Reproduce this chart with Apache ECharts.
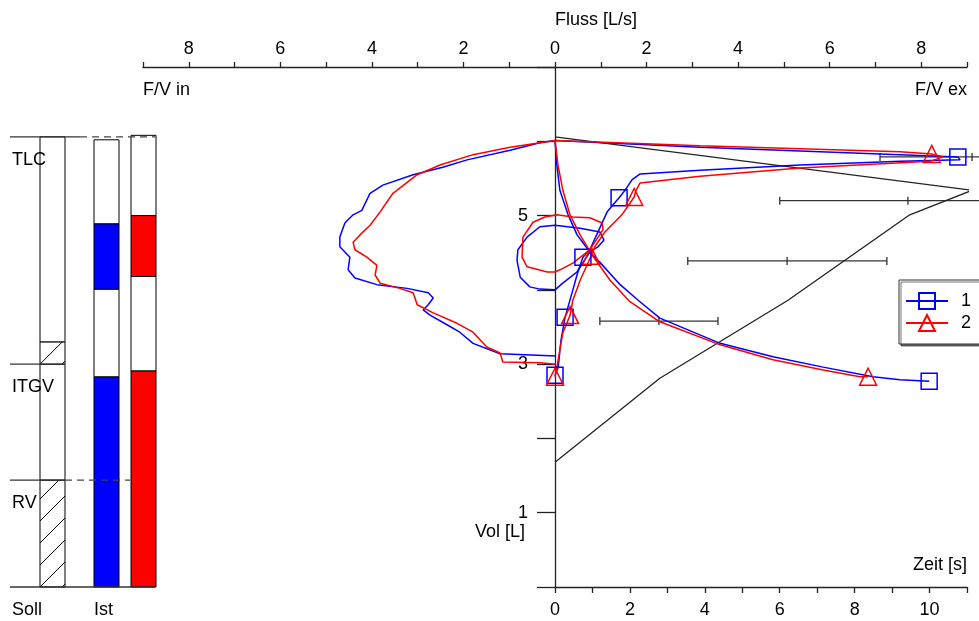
<!DOCTYPE html>
<html><head><meta charset="utf-8">
<script src="https://cdn.jsdelivr.net/npm/echarts@6/dist/echarts.min.js"></script>
<style>html,body{margin:0;padding:0;background:#fff}#c{width:979px;height:621px}</style>
</head><body><div id="c"></div>
<script>
// ================= DATA =================
// Left panel: lung volumes [L]
const sollNames   = ['TLC', 'ITGV', 'RV'];
const sollValues  = [6.06, 3.00, 1.44];
const sollHatch   = [[0, 1.44], [3.00, 3.30]];           // hatched (normal range) parts of the Soll column
const istSegNames = ['RV', 'ERV', 'VT', 'IRV'];
const ist1Segments = [2.83, 1.18, 0.88, 1.13];          // test 1 (blue)
const ist2Segments = [2.91, 1.27, 0.82, 1.08];          // test 2 (red)

// Flow-volume: predicted curve [flow L/s, vol L]
const sollFV = [[0, 6.06], [9.11, 5.34], [7.75, 5.01], [5.09, 3.86], [2.29, 2.81], [0, 1.68]];
// predicted ranges: [vol, low, predicted, high]
const mefRanges = [[5.79, 7.10, 9.11, 11.12], [5.20, 4.91, 7.71, 10.51], [4.39, 2.90, 5.07, 7.25], [3.58, 0.98, 2.27, 3.56]];

// Test 1 (blue) flow-volume
const blueTidal = [[0.00,4.00],[-0.33,4.01],[-0.55,4.04],[-0.76,4.17],[-0.83,4.40],[-0.81,4.54],[-0.61,4.71],[-0.33,4.85],[0.00,4.87],
  [0.55,4.83],[0.98,4.78],[1.07,4.67],[0.94,4.58],[0.76,4.51],[0.48,4.24],[0.17,4.09],[0.00,4.00]];
const blueFV = [[0.02,3.11],[-1.20,3.14],[-1.79,3.28],[-2.08,3.43],[-2.36,3.53],[-2.73,3.66],[-2.88,3.73],[-2.77,3.80],[-2.66,3.89],[-2.77,3.96],
  [-3.23,4.02],[-3.89,4.07],[-4.37,4.16],[-4.52,4.27],[-4.48,4.44],[-4.70,4.58],[-4.70,4.71],[-4.59,4.90],[-4.41,5.01],[-4.22,5.07],
  [-4.04,5.30],[-3.76,5.41],[-3.10,5.55],[-2.45,5.65],[-1.92,5.75],[-0.98,5.88],[-0.33,5.98],[0.00,6.01],
  [3.17,5.92],[7.54,5.82],[8.80,5.79],[8.85,5.75],[7.54,5.73],[5.35,5.68],[3.17,5.61],[1.86,5.56],[1.68,5.48],[1.53,5.34],[1.40,5.24],
  [1.14,5.05],[0.94,4.78],[0.76,4.54],[0.61,4.44],[0.50,4.24],[0.39,4.00],[0.22,3.63],[0.13,3.32],[0.07,2.96],[0.00,2.85]];
const blueFVMarks = [[8.80,5.79],[1.40,5.24],[0.61,4.44],[0.22,3.63],[0.00,2.85]];

// Test 2 (red) flow-volume
const redTidal = [[0.00,4.24],[-0.17,4.24],[-0.61,4.31],[-0.72,4.44],[-0.70,4.71],[-0.48,4.91],[-0.22,4.98],[0.04,5.01],
  [0.39,4.98],[0.76,4.97],[1.03,4.90],[1.05,4.81],[0.90,4.67],[0.76,4.54],[0.39,4.36],[0.11,4.27],[0.00,4.24]];
const redFV = [[0.02,3.00],[-0.33,3.02],[-1.14,3.03],[-1.20,3.15],[-1.49,3.23],[-1.79,3.43],[-2.14,3.55],[-2.66,3.69],[-3.01,3.80],[-3.10,3.96],
  [-3.39,4.02],[-3.82,4.09],[-3.93,4.20],[-3.89,4.33],[-4.11,4.44],[-4.37,4.54],[-4.41,4.64],[-4.26,4.74],[-4.04,4.87],[-3.82,5.05],
  [-3.54,5.30],[-3.01,5.55],[-2.51,5.68],[-1.79,5.82],[-0.98,5.92],[0.00,6.01],
  [3.17,5.94],[7.54,5.86],[8.23,5.83],[8.48,5.79],[8.19,5.73],[5.35,5.64],[3.17,5.53],[1.86,5.44],[1.77,5.34],[1.73,5.25],
  [1.46,5.01],[1.09,4.78],[0.87,4.58],[0.79,4.46],[0.55,4.13],[0.39,3.86],[0.33,3.66],[0.17,3.42],[0.04,2.95],[0.00,2.83]];
const redFVMarks = [[8.23,5.83],[1.73,5.25],[0.79,4.46],[0.33,3.66],[0.00,2.83]];

// Volume-time [s, L]
const blueTV = [[0,6.01],[0.05,5.68],[0.13,5.34],[0.35,5.01],[0.59,4.74],[0.93,4.51],[1.20,4.37],[1.74,4.07],[2.22,3.86],[2.80,3.62],
  [4.41,3.28],[5.82,3.10],[7.16,2.96],[8.49,2.83],[9.21,2.79],[9.99,2.77]];
const blueTVMarks = [[9.99,2.77]];
const redTV = [[0,6.01],[0.08,5.68],[0.21,5.34],[0.40,5.01],[0.67,4.74],[0.99,4.47],[1.47,4.13],[2.00,3.84],[2.80,3.57],
  [4.41,3.26],[5.82,3.06],[7.16,2.92],[8.14,2.83],[8.36,2.83]];
const redTVMarks = [[8.36,2.83]];

// Volume axis labels shown
const volLabels = [1, 3, 5];

// ================= LAYOUT / STYLE =================
const FONT = '"Liberation Sans", Arial, sans-serif';
const FS = 18;
const AX = '#222';
const COL_POS = [1.7, 3.86, 5.34];   // Soll, Ist 1, Ist 2 (left panel x units)
const COL_W = 1;
const REF_EXT = { TLC: [2.8, 5.8], ITGV: [2.2, 2.2], RV: [2.2, 4.8] };  // solid end, dashed end

// build column segment list: [xCenter, start, end, kind]  kind: 0 white,1 blue,2 red,3 hatch
const columnData = [];
(function () {
  const tlc = sollValues[0];
  const cuts = [0];
  sollHatch.forEach(h => { cuts.push(h[0], h[1]); });
  cuts.push(tlc);
  const uniq = Array.from(new Set(cuts)).sort((a, b) => a - b);
  for (let i = 0; i < uniq.length - 1; i++) {
    const s = uniq[i], e = uniq[i + 1];
    const hatched = sollHatch.some(h => s >= h[0] && e <= h[1]);
    columnData.push([COL_POS[0], s, e, hatched ? 3 : 0]);
  }
  [[ist1Segments, 1], [ist2Segments, 2]].forEach(([segs, col], k) => {
    let acc = 0;
    segs.forEach((v, i) => {
      columnData.push([COL_POS[k + 1], acc, acc + v, i % 2 === 0 ? col : 0]);
      acc += v;
    });
  });
})();
const refLineData = sollNames.map((n, i) => [sollValues[i], REF_EXT[n][0], REF_EXT[n][1]]);
refLineData.push([0, 5.8, 5.8]);
const refLabels = sollNames.concat(['']);

function withMarks(points, marks) {
  return points.map(p => marks.some(m => m[0] === p[0] && m[1] === p[1]) ? { value: p } : { value: p, symbol: 'none' });
}

function renderColumn(params, api) {
  const xc = api.value(0), y0 = api.value(1), y1 = api.value(2), kind = api.value(3);
  const a = api.coord([xc - COL_W / 2, y1]);
  const b = api.coord([xc + COL_W / 2, y0]);
  const x = a[0], top = a[1], w = b[0] - a[0], bottom = b[1];
  const fills = ['#ffffff', '#0000ff', '#ff0000', '#ffffff'];
  const children = [{ type: 'rect', shape: { x: x, y: top, width: w, height: bottom - top },
    style: { fill: fills[kind], stroke: '#000', lineWidth: 1 } }];
  if (kind === 3) {
    const step = 22;
    for (let c = bottom + step * Math.ceil(w / step); c > top; c -= step) {
      const t0 = Math.max(0, c - bottom), t1 = Math.min(w, c - top);
      if (t1 - t0 > 0.5) {
        children.push({ type: 'line', shape: { x1: x + t0, y1: c - t0, x2: x + t1, y2: c - t1 },
          style: { stroke: '#000', lineWidth: 1 } });
      }
    }
  }
  return { type: 'group', children: children };
}

function renderRefLine(params, api) {
  const v = api.value(0), se = api.value(1), de = api.value(2);
  const p = api.coord([0, v]), s = api.coord([se, v]), d = api.coord([de, v]);
  const ch = [{ type: 'line', shape: { x1: p[0], y1: p[1], x2: s[0], y2: s[1] }, style: { stroke: '#333', lineWidth: 1.3 } }];
  if (de > se) ch.push({ type: 'line', shape: { x1: s[0], y1: s[1], x2: d[0], y2: d[1] },
    style: { stroke: '#444', lineWidth: 1.3, lineDash: [7, 5] } });
  const lab = refLabels[params.dataIndex];
  if (lab) ch.push({ type: 'text', x: p[0] + 2, y: p[1] + 23,
    style: { text: lab, font: FS + 'px ' + FONT, fill: '#000', verticalAlign: 'middle', align: 'left' } });
  return { type: 'group', children: ch };
}

function renderErrBar(params, api) {
  const v = api.value(0);
  const a = api.coord([api.value(1), v]), m = api.coord([api.value(2), v]), b = api.coord([api.value(3), v]);
  const st = { stroke: '#333', lineWidth: 1.3 };
  const tk = p => ({ type: 'line', shape: { x1: p[0], y1: p[1] - 4, x2: p[0], y2: p[1] + 4 }, style: st });
  return { type: 'group', children: [
    { type: 'line', shape: { x1: a[0], y1: a[1], x2: b[0], y2: b[1] }, style: st }, tk(a), tk(m), tk(b)] };
}

const axLine = { lineStyle: { color: AX, width: 1.3 } };
const lbl = { fontSize: FS, color: '#000', fontFamily: FONT };
const BLUE = '#0000ff', RED = '#ff0000';
function curve(name, color, data, xi, sym, size) {
  return { type: 'line', name: name, xAxisIndex: xi, yAxisIndex: xi, data: data,
    symbol: sym, symbolSize: size, showSymbol: true, z: 4,
    lineStyle: { color: color, width: 1.5 },
    itemStyle: { color: 'rgba(0,0,0,0)', borderColor: color, borderWidth: 1.5 },
    emphasis: { disabled: true } };
}

const chart = echarts.init(document.getElementById('c'), null, { renderer: 'canvas' });
chart.setOption({
  animation: false,
  textStyle: { fontFamily: FONT },
  grid: [
    { left: 10, width: 150, top: 67, bottom: 34, outerBoundsMode: 'none' },
    { left: 143, right: 12, top: 67, bottom: 34, outerBoundsMode: 'none' },
    { left: 555, right: 12, top: 67, bottom: 34, outerBoundsMode: 'none' }
  ],
  xAxis: [
    { gridIndex: 0, type: 'value', min: 0, max: 6, show: false },
    { gridIndex: 1, type: 'value', position: 'top', min: -9, max: 9, interval: 1,
      axisLine: { onZero: false, lineStyle: axLine.lineStyle },
      axisTick: { show: true, length: 5, lineStyle: axLine.lineStyle },
      axisLabel: Object.assign({ margin: 9, formatter: v => (Number(v) % 2 === 0 ? String(Math.abs(Number(v))) : '') }, lbl),
      splitLine: { show: false } },
    { gridIndex: 2, type: 'value', position: 'bottom', min: 0, max: 11, interval: 1,
      axisLine: { onZero: false, lineStyle: axLine.lineStyle },
      axisTick: { show: true, length: 6, lineStyle: axLine.lineStyle },
      axisLabel: Object.assign({ margin: 14, formatter: v => (Number(v) % 2 === 0 ? String(Number(v)) : '') }, lbl),
      splitLine: { show: false } }
  ],
  yAxis: [
    { gridIndex: 0, type: 'value', min: 0, max: 7, show: false },
    { gridIndex: 1, type: 'value', min: 0, max: 7, show: false },
    { gridIndex: 2, type: 'value', min: 0, max: 7, interval: 1, position: 'left',
      axisLine: { show: true, onZero: false, lineStyle: axLine.lineStyle },
      axisTick: { show: true, length: 18, lineStyle: axLine.lineStyle },
      axisLabel: Object.assign({ show: true, margin: 27, hideOverlap: false,
        formatter: v => (volLabels.indexOf(Math.round(Number(v))) >= 0 ? String(Math.round(Number(v))) : '') }, lbl),
      splitLine: { show: false } }
  ],
  legend: {
    data: ['1', '2'], orient: 'vertical', left: 899, top: 280,
    itemWidth: 42, itemHeight: 20, itemGap: 4, padding: [12, 30, 12, 6],
    borderColor: '#333', borderWidth: 1, backgroundColor: '#fff',
    shadowColor: 'rgba(0,0,0,0.55)', shadowOffsetX: 2, shadowOffsetY: 2, shadowBlur: 0,
    textStyle: { fontSize: FS, color: '#000', fontFamily: FONT, padding: [0, 0, 0, 8] },
    selectedMode: false
  },
  graphic: [
    { type: 'text', x: 555, y: 20, style: { text: 'Fluss [L/s]', font: FS + 'px ' + FONT, fill: '#000', align: 'left', verticalAlign: 'middle' } },
    { type: 'text', x: 143, y: 90, style: { text: 'F/V in', font: FS + 'px ' + FONT, fill: '#000', align: 'left', verticalAlign: 'middle' } },
    { type: 'text', x: 967, y: 90, style: { text: 'F/V ex', font: FS + 'px ' + FONT, fill: '#000', align: 'right', verticalAlign: 'middle' } },
    { type: 'text', x: 967, y: 565, style: { text: 'Zeit [s]', font: FS + 'px ' + FONT, fill: '#000', align: 'right', verticalAlign: 'middle' } },
    { type: 'text', x: 525, y: 532, style: { text: 'Vol [L]', font: FS + 'px ' + FONT, fill: '#000', align: 'right', verticalAlign: 'middle' } },
    { type: 'text', x: 12, y: 610, style: { text: 'Soll', font: FS + 'px ' + FONT, fill: '#000', align: 'left', verticalAlign: 'middle' } },
    { type: 'text', x: 94, y: 610, style: { text: 'Ist', font: FS + 'px ' + FONT, fill: '#000', align: 'left', verticalAlign: 'middle' } }
  ],
  series: [
    { type: 'custom', name: 'Säulen', xAxisIndex: 0, yAxisIndex: 0, renderItem: renderColumn, data: columnData, silent: true, clip: false },
    { type: 'custom', name: 'Soll-Linien', xAxisIndex: 0, yAxisIndex: 0, renderItem: renderRefLine, data: refLineData, silent: true, clip: false, z: 3 },
    { type: 'line', name: 'Soll', xAxisIndex: 1, yAxisIndex: 1, data: sollFV, symbol: 'none', z: 2,
      lineStyle: { color: '#222', width: 1.3 }, emphasis: { disabled: true } },
    { type: 'custom', name: 'MEF Soll', xAxisIndex: 1, yAxisIndex: 1, renderItem: renderErrBar, data: mefRanges, silent: true, clip: false, z: 2 },
    curve('1', BLUE, withMarks(blueFV, blueFVMarks), 1, 'rect', 16),
    curve('1', BLUE, blueTidal.map(p => ({ value: p, symbol: 'none' })), 1, 'rect', 16),
    curve('1', BLUE, withMarks(blueTV, blueTVMarks), 2, 'rect', 16),
    curve('2', RED, withMarks(redFV, redFVMarks), 1, 'triangle', 17),
    curve('2', RED, redTidal.map(p => ({ value: p, symbol: 'none' })), 1, 'triangle', 17),
    curve('2', RED, withMarks(redTV, redTVMarks), 2, 'triangle', 17)
  ]
});
</script>
</body></html>
